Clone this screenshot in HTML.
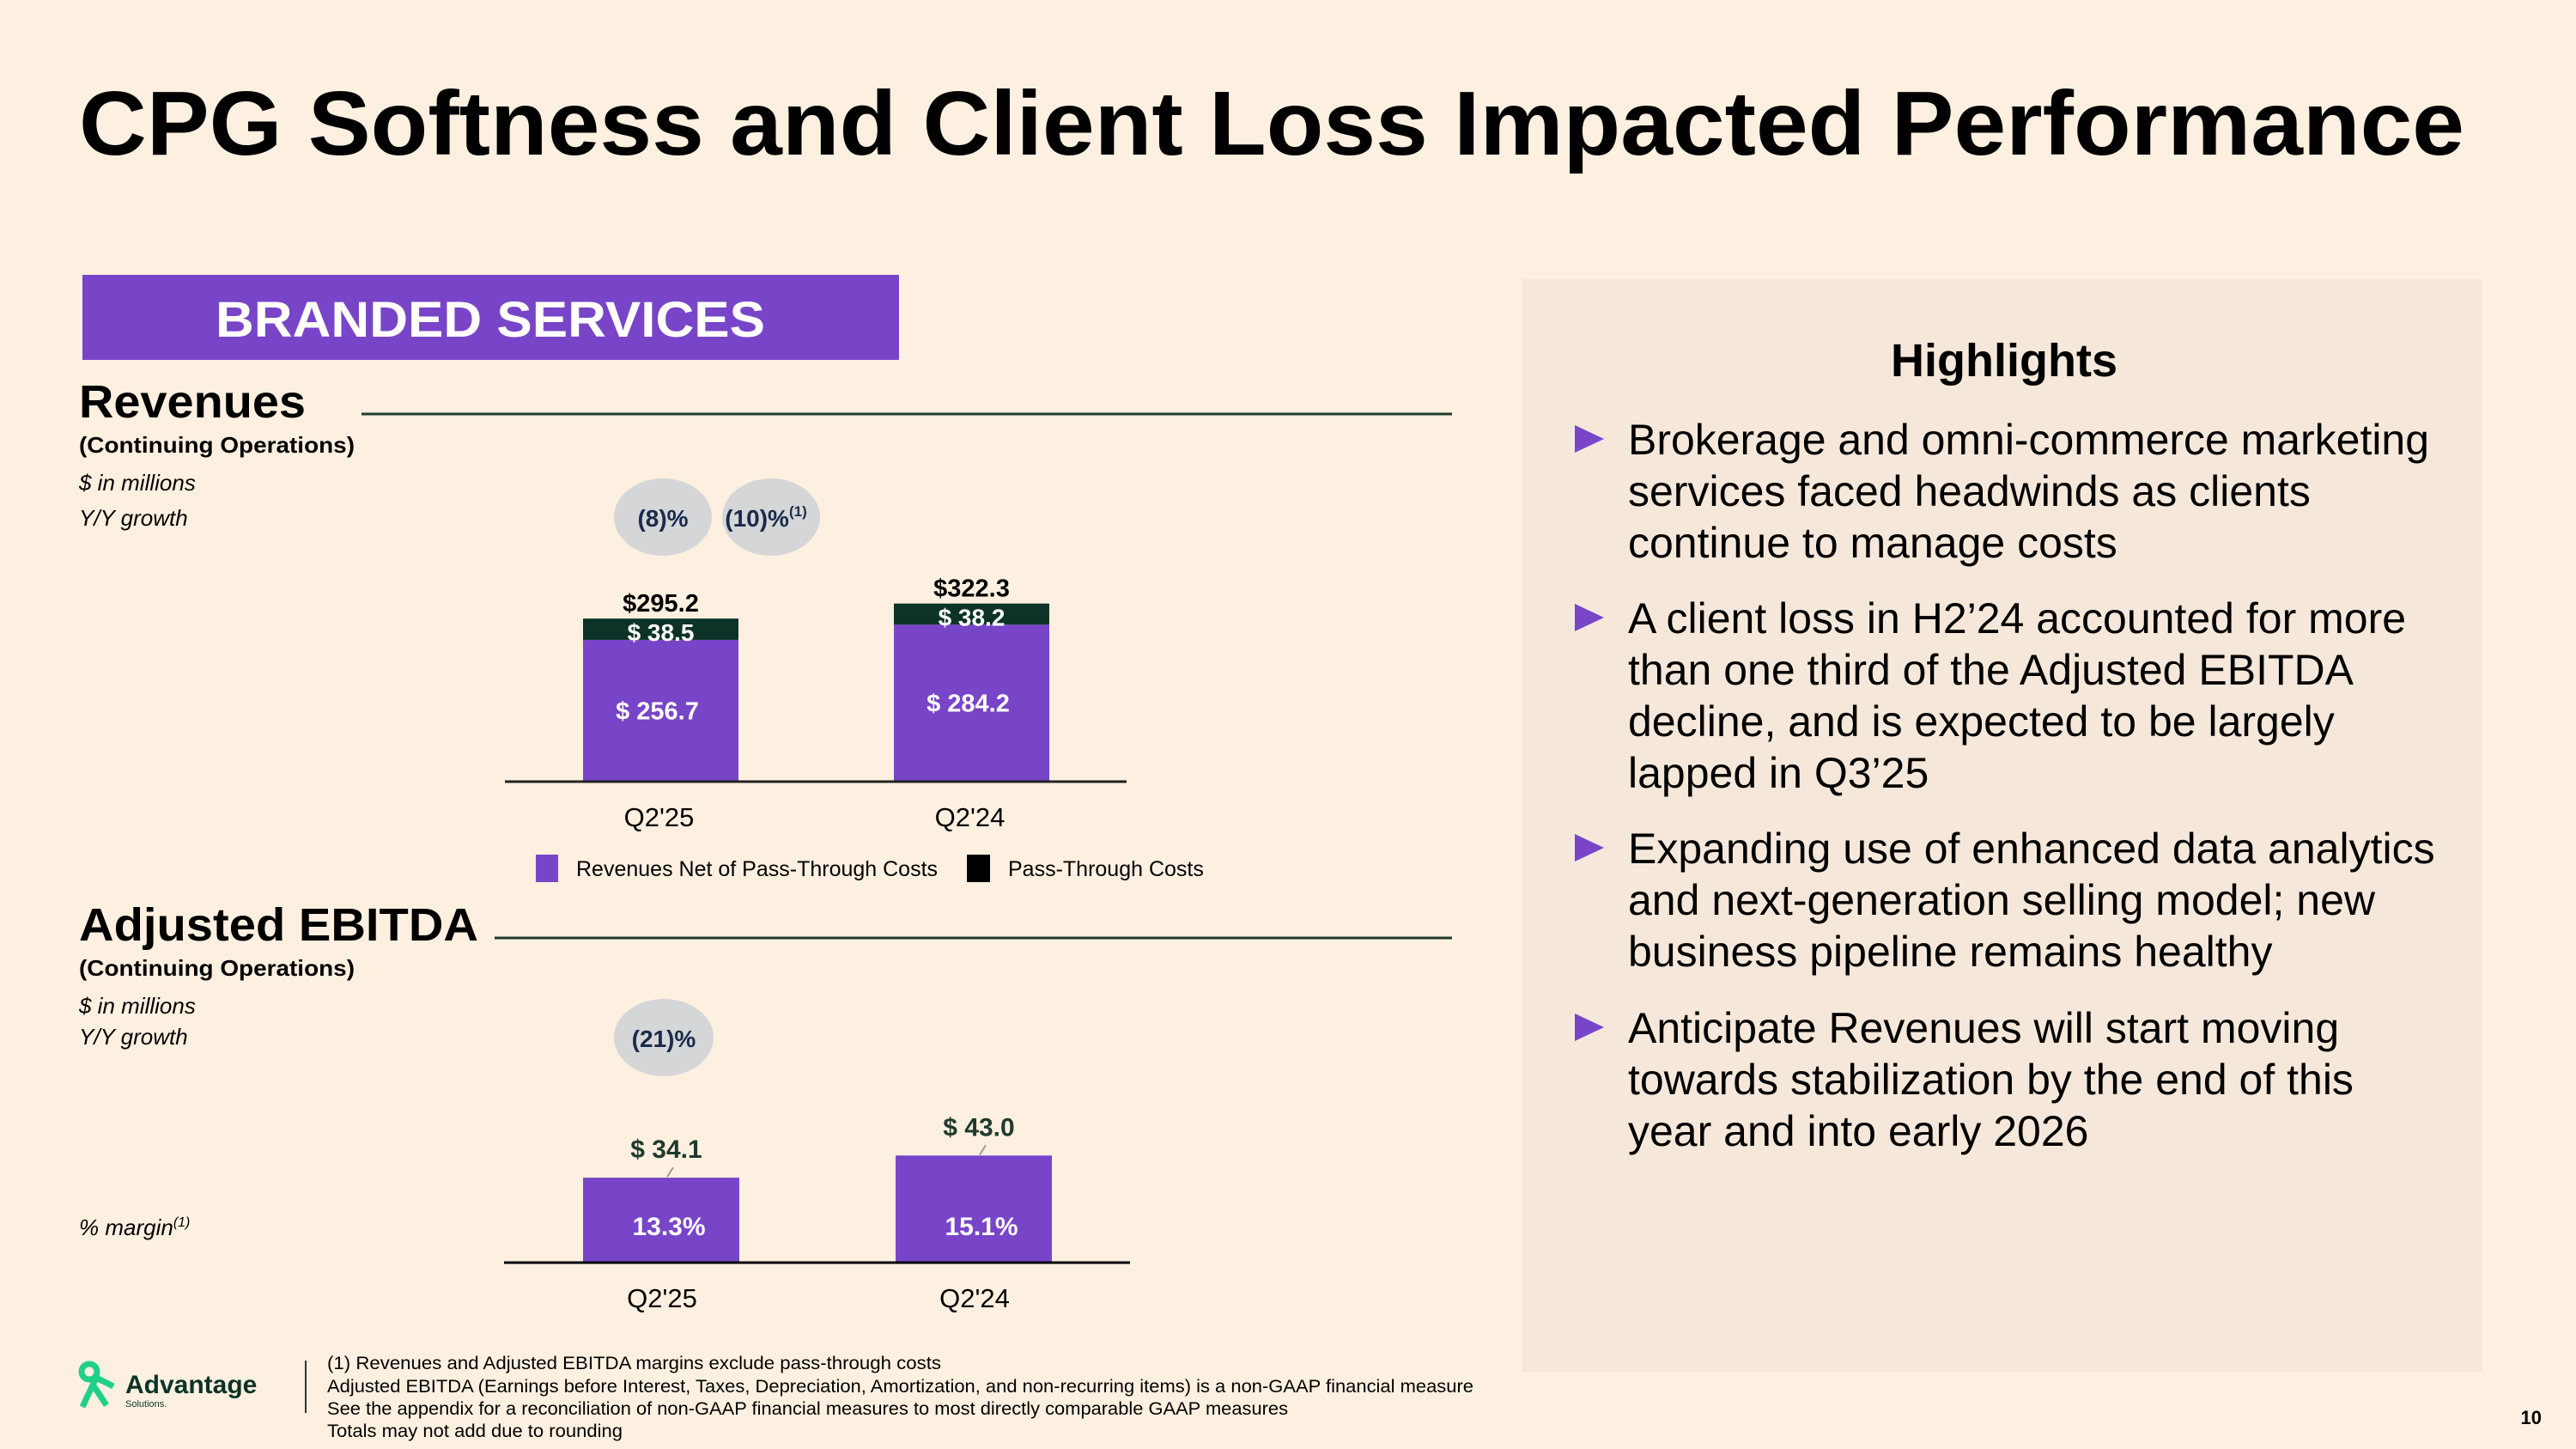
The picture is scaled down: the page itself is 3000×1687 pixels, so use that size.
<!DOCTYPE html>
<html><head><meta charset="utf-8">
<style>
html,body{margin:0;padding:0;background:#fdf0e0;}
svg{display:block;font-family:"Liberation Sans",Arial,sans-serif;}
</style></head>
<body>
<svg id="slide" width="3000" height="1687" viewBox="0 0 3000 1687" xmlns="http://www.w3.org/2000/svg">
<rect x="0" y="0" width="3000" height="1687" fill="#fdf0e0"/>
<text x="92" y="180" font-size="106" font-weight="bold" fill="#000" textLength="2778" lengthAdjust="spacingAndGlyphs">CPG Softness and Client Loss Impacted Performance</text>

<g>
<rect x="96" y="320" width="951" height="99" fill="#7845c9"/>
<text x="251" y="392" font-size="58" font-weight="bold" fill="#fff" textLength="640" lengthAdjust="spacingAndGlyphs">BRANDED SERVICES</text>
</g>

<g>
<text x="92" y="486" font-size="54" font-weight="bold" fill="#000" textLength="264" lengthAdjust="spacingAndGlyphs">Revenues</text>
<line x1="421" y1="482" x2="1691" y2="482" stroke="#1f3a2e" stroke-width="3"/>
<text x="92" y="527" font-size="26" font-weight="bold" fill="#000" textLength="321" lengthAdjust="spacingAndGlyphs">(Continuing Operations)</text>
<text x="92" y="571" font-size="26" font-style="italic" fill="#000">$ in millions</text>
<text x="92" y="612" font-size="26" font-style="italic" fill="#000">Y/Y growth</text>
</g>

<g>
<text x="92" y="1095" font-size="54" font-weight="bold" fill="#000" textLength="465" lengthAdjust="spacingAndGlyphs">Adjusted EBITDA</text>
<line x1="576" y1="1092" x2="1691" y2="1092" stroke="#1f3a2e" stroke-width="3"/>
<text x="92" y="1136" font-size="26" font-weight="bold" fill="#000" textLength="321" lengthAdjust="spacingAndGlyphs">(Continuing Operations)</text>
<text x="92" y="1180" font-size="26" font-style="italic" fill="#000">$ in millions</text>
<text x="92" y="1216" font-size="26" font-style="italic" fill="#000">Y/Y growth</text>
<text x="92" y="1438" font-size="26" font-style="italic" fill="#000">% margin<tspan font-size="16" dy="-10">(1)</tspan></text>
</g>

<g id="rev-chart"></g>
<g id="ebitda-chart"></g>

<g>
<rect x="1773" y="325" width="1118" height="1272" fill="#f5e8da"/>
<text x="2334" y="438" font-size="54" font-weight="bold" fill="#000" text-anchor="middle">Highlights</text>
<g font-size="50" fill="#000">
<polygon points="1834,495 1834,527 1868,511" fill="#7845c9"/>
<text x="1896" y="529" textLength="933" lengthAdjust="spacingAndGlyphs">Brokerage and omni-commerce marketing</text>
<text x="1896" y="589">services faced headwinds as clients</text>
<text x="1896" y="649">continue to manage costs</text>
<polygon points="1834,703 1834,735 1868,719" fill="#7845c9"/>
<text x="1896" y="737">A client loss in H2’24 accounted for more</text>
<text x="1896" y="797">than one third of the Adjusted EBITDA</text>
<text x="1896" y="857">decline, and is expected to be largely</text>
<text x="1896" y="917">lapped in Q3’25</text>
<polygon points="1834,971 1834,1003 1868,987" fill="#7845c9"/>
<text x="1896" y="1005">Expanding use of enhanced data analytics</text>
<text x="1896" y="1065">and next-generation selling model; new</text>
<text x="1896" y="1125">business pipeline remains healthy</text>
<polygon points="1834,1180 1834,1212 1868,1196" fill="#7845c9"/>
<text x="1896" y="1214">Anticipate Revenues will start moving</text>
<text x="1896" y="1274">towards stabilization by the end of this</text>
<text x="1896" y="1334">year and into early 2026</text>
</g>
</g>

<g>
<circle cx="104" cy="1597" r="9" fill="none" stroke="#1fcf8a" stroke-width="7"/>
<path d="M96,1638 L112,1604 L132,1614 M108,1612 L124,1636" stroke="#1fcf8a" stroke-width="7" fill="none"/>
<text x="146" y="1622" font-size="30" font-weight="bold" fill="#0d3328">Advantage</text>
<text x="146" y="1638" font-size="11" fill="#0d3328">Solutions.</text>
</g>
<line x1="356" y1="1584" x2="356" y2="1645" stroke="#333" stroke-width="2"/>
<g font-size="21" fill="#000">
<text x="381" y="1594" textLength="715" lengthAdjust="spacingAndGlyphs">(1)  Revenues and Adjusted EBITDA margins exclude pass-through costs</text>
<text x="381" y="1621" textLength="1335" lengthAdjust="spacingAndGlyphs">Adjusted EBITDA (Earnings before Interest, Taxes, Depreciation, Amortization, and non-recurring items) is a non-GAAP financial measure</text>
<text x="381" y="1647" textLength="1119" lengthAdjust="spacingAndGlyphs">See the appendix for a reconciliation of non-GAAP financial measures to most directly comparable GAAP measures</text>
<text x="381" y="1673" textLength="344" lengthAdjust="spacingAndGlyphs">Totals may not add due to rounding</text>
</g>
<text x="2960" y="1658" font-size="22" font-weight="bold" fill="#000" text-anchor="end">10</text>
</svg>

<script>
const NS = "http://www.w3.org/2000/svg";
// Revenues chart data
const revCategories = ["Q2'25", "Q2'24"];
const revNet = [256.7, 284.2];
const revPass = [38.5, 38.2];
const revTotalLabels = ["$295.2", "$322.3"];
const revGrowth = ["(8)%", "(10)%"];
// EBITDA chart data
const ebCategories = ["Q2'25", "Q2'24"];
const ebValues = [34.1, 43.0];
const ebMargins = ["13.3%", "15.1%"];
const ebGrowth = ["(21)%"];

function mk(parent, tag, attrs, text) {
  const e = document.createElementNS(NS, tag);
  for (const k in attrs) e.setAttribute(k, attrs[k]);
  if (text !== undefined) e.textContent = text;
  parent.appendChild(e);
  return e;
}
const PURPLE = "#7845c9", DARK = "#0d3328";

// ---- Revenue chart ----
(function(){
  const g = document.getElementById('rev-chart');
  const base = 910, k = 0.643;
  const bx = i => 679 + i * 362, bw = 181;
  const y = v => base - v * k;
  revCategories.forEach((c, i) => {
    const tot = revNet[i] + revPass[i];
    const r1 = mk(g, 'rect', {x: bx(i), y: y(revNet[i]), width: bw, height: revNet[i] * k, fill: PURPLE});
    
    
    const r2 = mk(g, 'rect', {x: bx(i), y: y(tot), width: bw, height: revPass[i] * k, fill: DARK});
    
    
    const cx = bx(i) + bw / 2;
    const t1 = mk(g, 'text', {x: cx, y: y(tot) - 8, 'font-size': 29, 'font-weight': 'bold', 'text-anchor': 'middle', fill: '#000'}, revTotalLabels[i]);
    
    
    const t2 = mk(g, 'text', {x: cx, y: y(tot) + 26, 'font-size': 28, 'font-weight': 'bold', 'text-anchor': 'middle', fill: '#fff'}, '$ ' + revPass[i].toFixed(1));
    
    
    const t3 = mk(g, 'text', {x: cx - 4, y: y(revNet[i] / 2) + 10, 'font-size': 29, 'font-weight': 'bold', 'text-anchor': 'middle', fill: '#fff'}, '$ ' + revNet[i].toFixed(1));
    
    
    const t4 = mk(g, 'text', {x: cx - 2, y: 962, 'font-size': 31, 'text-anchor': 'middle', fill: '#000'}, c);
    
    
  });
  const ax = mk(g, 'line', {x1: 588, y1: base, x2: 1312, y2: base, stroke: '#222', 'stroke-width': 3});
  
  
  revGrowth.forEach((s, i) => {
    const cx = 772 + i * 126;
    const b = mk(g, 'ellipse', {cx: cx, cy: 602, rx: 57, ry: 45, fill: '#d5d6d8'});
    
    
    const t = mk(g, 'text', {x: cx - (i ? 6 : 0), y: 613, 'font-size': 28, 'font-weight': 'bold', 'text-anchor': 'middle', fill: '#1a2b4a'}, s);
    
    
    if (i) mk(t, 'tspan', {'font-size': 17, dy: -12}, '(1)');
  });
  // legend
  const l1 = mk(g, 'rect', {x: 624, y: 995, width: 26, height: 32, fill: PURPLE});
  
  
  const l2 = mk(g, 'text', {x: 671, y: 1020, 'font-size': 25, fill: '#000'}, 'Revenues Net of Pass-Through Costs');
  
  
  const l3 = mk(g, 'rect', {x: 1126, y: 995, width: 27, height: 32, fill: '#000'});
  
  
  const l4 = mk(g, 'text', {x: 1174, y: 1020, 'font-size': 25, fill: '#000'}, 'Pass-Through Costs');
  
  
})();

// ---- EBITDA chart ----
(function(){
  const g = document.getElementById('ebitda-chart');
  const base = 1470, k = 2.9;
  const bx = i => 679 + i * 364, bw = 182;
  const y = v => base - v * k;
  ebCategories.forEach((c, i) => {
    const r = mk(g, 'rect', {x: bx(i), y: y(ebValues[i]), width: bw, height: ebValues[i] * k, fill: PURPLE});
    
    
    const cx = bx(i) + bw / 2;
    const ld = mk(g, 'line', {x1: cx + 7, y1: y(ebValues[i]) - 1, x2: cx + 14, y2: y(ebValues[i]) - 12, stroke: '#999', 'stroke-width': 2});
    
    
    const t = mk(g, 'text', {x: cx + 6, y: y(ebValues[i]) - 23, 'font-size': 30, 'font-weight': 'bold', 'text-anchor': 'middle', fill: '#1f3a2e'}, '$ ' + ebValues[i].toFixed(1));
    
    
    const m = mk(g, 'text', {x: cx + 9, y: 1438, 'font-size': 30, 'font-weight': 'bold', 'text-anchor': 'middle', fill: '#fff'}, ebMargins[i]);
    
    
    const xl = mk(g, 'text', {x: cx + 1, y: 1522, 'font-size': 31, 'text-anchor': 'middle', fill: '#000'}, c);
    
    
  });
  const ax = mk(g, 'line', {x1: 587, y1: base, x2: 1316, y2: base, stroke: '#000', 'stroke-width': 3});
  
  
  ebGrowth.forEach((s, i) => {
    const b = mk(g, 'ellipse', {cx: 773, cy: 1208, rx: 58, ry: 45, fill: '#d5d6d8'});
    
    
    const t = mk(g, 'text', {x: 773, y: 1219, 'font-size': 28, 'font-weight': 'bold', 'text-anchor': 'middle', fill: '#1a2b4a'}, s);
    
    
  });
})();
</script>
</body></html>
